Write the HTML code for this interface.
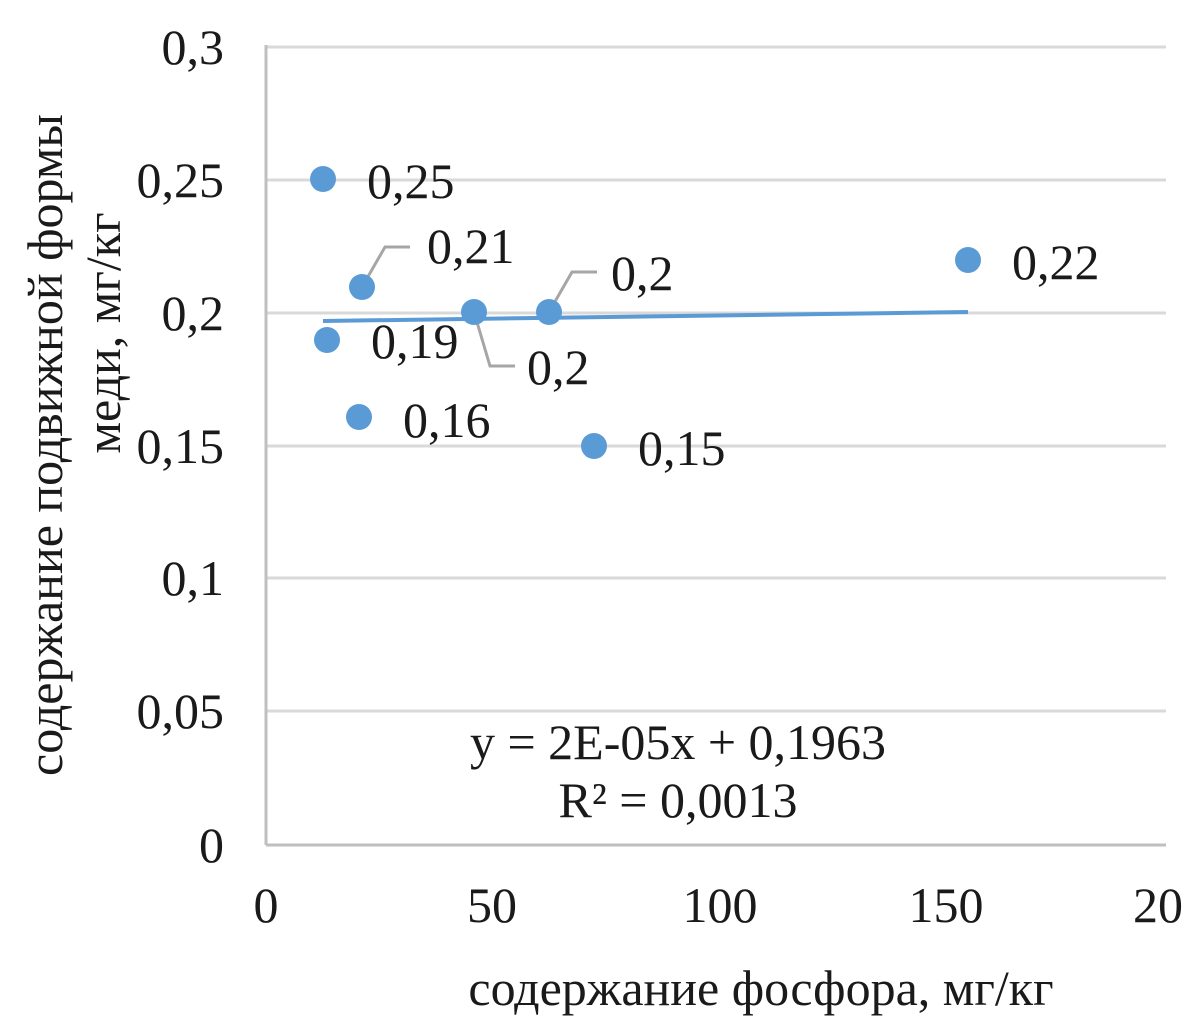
<!DOCTYPE html>
<html><head><meta charset="utf-8"><style>
html,body{margin:0;padding:0;background:#fff;}
svg{display:block;}
text{font-family:"Liberation Serif",serif;fill:#1a1a1a;}
</style></head><body>
<svg width="1191" height="1025" viewBox="0 0 1191 1025" xmlns="http://www.w3.org/2000/svg">
<g stroke="#d9d9d9" stroke-width="3">
<line x1="266" y1="47" x2="1166" y2="47"/>
<line x1="266" y1="180" x2="1166" y2="180"/>
<line x1="266" y1="313" x2="1166" y2="313"/>
<line x1="266" y1="446" x2="1166" y2="446"/>
<line x1="266" y1="578" x2="1166" y2="578"/>
<line x1="266" y1="711" x2="1166" y2="711"/>
</g>
<line x1="266" y1="845" x2="1166" y2="845" stroke="#bfbfbf" stroke-width="3"/>
<line x1="266" y1="45" x2="266" y2="845" stroke="#bfbfbf" stroke-width="3"/>
<g font-size="50" text-anchor="end">
<text x="224" y="64">0,3</text>
<text x="224" y="197">0,25</text>
<text x="224" y="330">0,2</text>
<text x="224" y="463">0,15</text>
<text x="224" y="595">0,1</text>
<text x="224" y="728">0,05</text>
<text x="224" y="862">0</text>
</g>
<g font-size="50" text-anchor="middle">
<text x="266" y="922">0</text>
<text x="492" y="922">50</text>
<text x="720" y="922">100</text>
<text x="946" y="922">150</text>
<text x="1158" y="922">20</text>
</g>
<line x1="323" y1="321" x2="968" y2="312" stroke="#5b9bd5" stroke-width="4"/>
<g stroke="#a6a6a6" stroke-width="3" fill="none">
<polyline points="362,287 385,247 410,247"/>
<polyline points="549,312 572,272 597,272"/>
<polyline points="474,312 490,366 515,366"/>
</g>
<g fill="#5b9bd5">
<circle cx="323" cy="179" r="13"/>
<circle cx="362" cy="287" r="13"/>
<circle cx="327" cy="340" r="13"/>
<circle cx="359" cy="417" r="13"/>
<circle cx="474" cy="312" r="13"/>
<circle cx="549" cy="312" r="13"/>
<circle cx="594" cy="446" r="13"/>
<circle cx="968" cy="260" r="13"/>
</g>
<g font-size="50">
<text x="367" y="198">0,25</text>
<text x="427" y="263">0,21</text>
<text x="611" y="290">0,2</text>
<text x="371" y="358">0,19</text>
<text x="527" y="384">0,2</text>
<text x="403" y="437">0,16</text>
<text x="638" y="465">0,15</text>
<text x="1012" y="279">0,22</text>
</g>
<g font-size="50" text-anchor="middle">
<text x="678" y="759">y = 2E-05x + 0,1963</text>
<text x="678" y="817">R² = 0,0013</text>
<text x="761" y="1005">содержание фосфора, мг/кг</text>
</g>
<g font-size="50" text-anchor="middle">
<text transform="translate(62,445) rotate(-90)">содержание подвижной формы</text>
<text transform="translate(120,333) rotate(-90)">меди, мг/кг</text>
</g>
</svg>
</body></html>
